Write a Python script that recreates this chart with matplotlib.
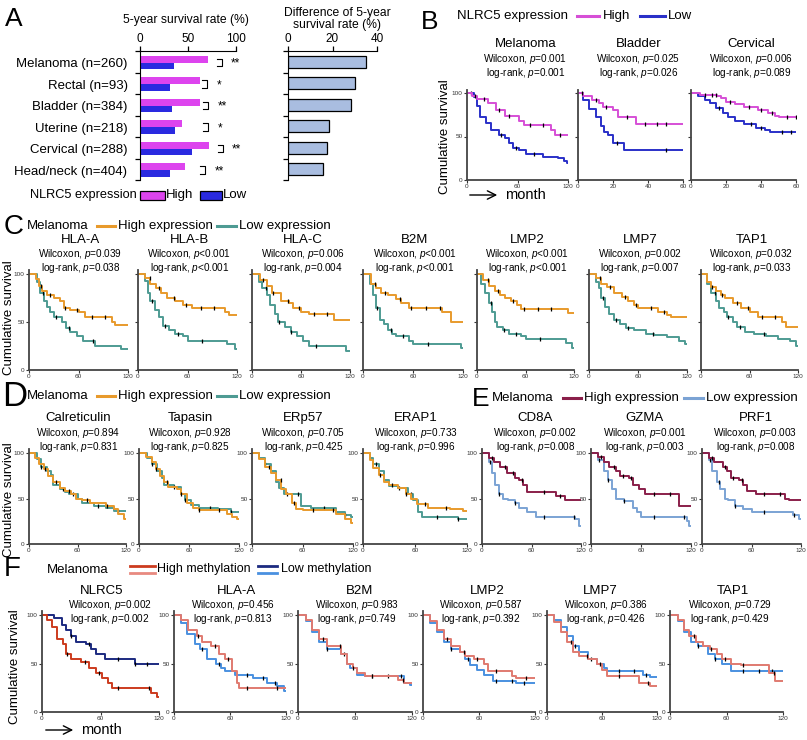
import numpy as np
import matplotlib
matplotlib.use('Agg')
import matplotlib.pyplot as plt
from matplotlib.lines import Line2D
from matplotlib.patches import Rectangle, FancyArrowPatch

plt.rcParams['font.family'] = ['Liberation Sans', 'DejaVu Sans']
plt.rcParams['mathtext.fontset'] = 'custom'
plt.rcParams['mathtext.it'] = 'Liberation Sans:italic'
plt.rcParams['mathtext.rm'] = 'Liberation Sans'

W, H = 807, 740

# ---------------- panel A data
cancers = ['Melanoma (n=260)', 'Rectal (n=93)', 'Bladder (n=384)',
           'Uterine (n=218)', 'Cervical (n=288)', 'Head/neck (n=404)']
surv_high = [71, 62, 62, 44, 72, 47]
surv_low = [35, 31, 33, 36, 54, 31]
surv_diff = [35, 30.3, 28.2, 18.5, 17.4, 15.6]
signif = ['**', '*', '**', '*', '**', '**']
bracket_x = [80, 65, 66, 66, 81, 63]

# ---------------- KM curves: (month, survival % after the drop), censor months
# panel B  (NLRC5 high / low)
b_mel_hi = [(6, 97), (12, 93), (25, 88), (35, 80), (45, 73), (62, 68), (68, 63), (100, 58), (104, 52)]
b_mel_hi_c = [10, 20, 38, 50, 75, 90, 110]
b_mel_lo = [(8, 95), (12, 85), (15, 72), (22, 65), (28, 58), (38, 52), (45, 48), (50, 42),
            (55, 37), (62, 35), (70, 30), (90, 27), (108, 25), (115, 22), (119, 19)]
b_mel_lo_c = [5, 40, 58, 80]
b_bla_hi = [(3, 97), (8, 92), (12, 88), (14, 84), (20, 80), (23, 72), (33, 64)]
b_bla_hi_c = [2, 10, 16, 28, 38, 45, 50]
b_bla_lo = [(3, 92), (6, 82), (10, 72), (13, 62), (15, 55), (17, 52), (20, 43), (26, 35)]
b_bla_lo_c = [22, 50]
b_cer_hi = [(5, 98), (15, 97), (17, 94), (20, 90), (25, 87), (30, 84), (38, 80), (44, 77), (48, 73), (50, 72)]
b_cer_hi_c = [8, 12, 14, 22, 33, 40, 46, 55, 60]
b_cer_lo = [(4, 96), (8, 92), (11, 88), (14, 83), (18, 77), (21, 72), (25, 68), (30, 64),
            (37, 60), (42, 57), (45, 55)]
b_cer_lo_c = [16, 34, 40, 52, 57]

# panel C  (melanoma, high / low expression)
c_hla_a_hi = [(8, 95), (12, 88), (16, 82), (22, 78), (30, 75), (38, 72), (42, 65), (50, 62),
              (60, 60), (68, 55), (100, 50), (104, 47)]
c_hla_a_lo = [(10, 92), (13, 80), (18, 72), (22, 66), (26, 60), (30, 55), (40, 50), (45, 44),
              (50, 40), (58, 35), (65, 30), (80, 25), (112, 22)]
c_hla_b_hi = [(8, 96), (15, 90), (22, 85), (28, 80), (35, 75), (45, 72), (55, 68), (65, 65),
              (105, 60), (110, 57)]
c_hla_b_lo = [(8, 93), (12, 80), (15, 72), (20, 62), (25, 55), (30, 46), (38, 42), (45, 38),
              (55, 35), (60, 30), (108, 27), (118, 22)]
c_hla_c_hi = [(10, 94), (18, 87), (25, 80), (35, 72), (45, 70), (50, 65), (60, 60), (70, 58),
              (100, 52)]
c_hla_c_lo = [(8, 92), (12, 85), (18, 78), (22, 68), (28, 58), (32, 50), (40, 45), (48, 40),
              (55, 35), (62, 30), (70, 25), (115, 20)]
c_b2m_hi = [(10, 90), (15, 85), (22, 80), (30, 78), (40, 74), (45, 70), (55, 65), (95, 60), (105, 50)]
c_b2m_lo = [(8, 90), (12, 78), (16, 65), (20, 52), (25, 48), (30, 42), (35, 38), (40, 35),
            (55, 30), (60, 27), (118, 23)]
c_lmp2_hi = [(8, 94), (15, 88), (22, 82), (28, 78), (35, 75), (42, 72), (50, 68), (55, 64), (112, 59)]
c_lmp2_lo = [(5, 90), (10, 80), (15, 70), (18, 60), (22, 50), (25, 45), (32, 42), (40, 38),
             (55, 35), (60, 32), (110, 28), (117, 23)]
c_lmp7_hi = [(8, 96), (15, 90), (22, 86), (30, 80), (40, 76), (48, 72), (55, 68), (60, 65),
             (85, 60), (95, 57), (100, 55)]
c_lmp7_lo = [(8, 92), (12, 85), (15, 75), (20, 66), (25, 58), (30, 52), (38, 48), (45, 44),
             (55, 42), (70, 38), (80, 36), (95, 34), (110, 30), (118, 27)]
c_tap1_hi = [(8, 92), (12, 86), (18, 82), (25, 78), (30, 75), (40, 70), (50, 65), (60, 60),
             (70, 55), (100, 50), (105, 45)]
c_tap1_lo = [(8, 90), (12, 80), (18, 72), (22, 65), (28, 60), (32, 55), (40, 50), (45, 45),
             (55, 40), (65, 37), (80, 35), (95, 32), (110, 30), (118, 25)]
c_cens_hi = [14, 26, 44, 58, 76, 92]
c_cens_lo = [17, 33, 48, 78]

# panel D
d_calr_hi = [(8, 95), (12, 88), (18, 82), (24, 75), (30, 68), (38, 62), (45, 58), (52, 55),
             (58, 50), (65, 48), (75, 45), (95, 42), (105, 38), (110, 33), (118, 28)]
d_calr_lo = [(10, 93), (15, 85), (22, 80), (27, 76), (30, 65), (38, 60), (45, 57), (50, 55),
             (60, 50), (65, 45), (80, 42), (95, 40), (105, 36)]
d_tapa_hi = [(8, 96), (15, 90), (20, 82), (25, 75), (30, 68), (35, 63), (45, 60), (50, 55),
             (58, 45), (65, 40), (72, 37), (105, 33), (112, 30), (118, 27)]
d_tapa_lo = [(10, 94), (15, 88), (22, 80), (27, 72), (30, 65), (42, 63), (50, 55), (55, 48),
             (62, 43), (72, 40), (95, 38), (110, 35)]
d_erp57_hi = [(8, 93), (15, 85), (22, 78), (28, 70), (35, 60), (40, 55), (48, 45), (52, 38),
              (60, 37), (100, 33), (110, 28), (118, 23)]
d_erp57_lo = [(8, 95), (15, 88), (22, 80), (28, 68), (32, 62), (38, 55), (58, 42), (70, 40),
              (100, 35), (110, 32), (118, 30)]
d_erap1_hi = [(8, 92), (12, 84), (18, 76), (24, 68), (30, 65), (40, 62), (50, 55), (55, 50),
              (62, 44), (75, 40), (100, 38), (115, 36)]
d_erap1_lo = [(8, 95), (12, 88), (18, 80), (24, 70), (30, 64), (40, 62), (52, 55), (58, 48),
              (63, 35), (68, 30), (110, 28)]
d_cens_hi = [20, 34, 50, 72, 96]
d_cens_lo = [15, 42, 55, 85, 110]

# panel E
e_cd8a_hi = [(8, 95), (15, 90), (22, 85), (30, 78), (40, 73), (45, 70), (50, 65), (55, 57),
             (90, 53), (100, 48)]
e_cd8a_lo = [(8, 90), (12, 78), (16, 65), (20, 55), (25, 50), (32, 48), (40, 45), (45, 40),
             (55, 35), (65, 30), (113, 27), (118, 20)]
e_gzma_hi = [(8, 96), (15, 90), (22, 85), (30, 80), (35, 75), (45, 72), (50, 65), (58, 60),
             (65, 55), (105, 42)]
e_gzma_lo = [(8, 92), (15, 80), (20, 70), (25, 60), (30, 50), (40, 47), (50, 40), (55, 35),
             (60, 30), (115, 25), (118, 20)]
e_prf1_hi = [(8, 95), (15, 90), (25, 85), (30, 80), (35, 72), (45, 70), (50, 65), (55, 58),
             (65, 55), (100, 50), (105, 48)]
e_prf1_lo = [(8, 92), (12, 80), (18, 68), (22, 60), (28, 50), (32, 48), (40, 42), (50, 38),
             (60, 35), (110, 32), (118, 28)]
e_cens_hi = [12, 28, 38, 48, 75, 95]
e_cens_lo = [10, 20, 40, 75, 112]

# panel F  (high / low methylation)
f_nlrc5_hi = [(5, 95), (10, 88), (15, 75), (22, 70), (25, 60), (30, 55), (40, 52), (48, 45),
              (55, 40), (62, 35), (68, 30), (72, 25), (112, 20), (118, 15)]
f_nlrc5_lo = [(12, 97), (20, 90), (25, 85), (30, 78), (35, 72), (45, 70), (50, 65), (55, 60),
              (65, 55), (95, 50)]
f_hlaa_hi = [(8, 95), (15, 85), (25, 78), (30, 72), (40, 68), (48, 60), (55, 55), (62, 42),
             (68, 30), (70, 25)]
f_hlaa_lo = [(8, 92), (14, 80), (22, 70), (28, 65), (35, 55), (45, 50), (50, 45), (55, 42),
             (65, 38), (85, 35), (100, 30), (110, 27), (118, 22)]
f_b2m_hi = [(8, 95), (15, 85), (22, 75), (30, 68), (45, 60), (52, 50), (58, 45), (62, 40),
            (70, 37), (105, 33), (112, 30)]
f_b2m_lo = [(8, 94), (15, 82), (22, 72), (30, 65), (45, 60), (52, 50), (55, 45), (62, 38),
            (70, 37), (112, 30), (118, 28)]
f_lmp2_hi = [(8, 94), (15, 85), (22, 75), (30, 68), (40, 62), (45, 58), (55, 55), (65, 50),
             (70, 42), (95, 37), (100, 35)]
f_lmp2_lo = [(8, 92), (15, 82), (22, 72), (30, 65), (40, 62), (45, 55), (50, 48), (58, 43),
             (65, 38), (75, 32), (100, 30)]
f_lmp7_hi = [(8, 93), (15, 82), (22, 72), (28, 62), (35, 58), (45, 55), (55, 50), (60, 43),
             (65, 37), (100, 30), (112, 27)]
f_lmp7_lo = [(8, 95), (15, 88), (22, 78), (28, 68), (35, 62), (45, 55), (55, 50), (62, 45),
             (65, 42), (105, 38), (112, 36)]
f_tap1_hi = [(8, 95), (15, 85), (20, 78), (28, 72), (35, 68), (42, 65), (50, 60), (55, 55),
             (65, 50), (75, 48), (105, 40), (112, 32)]
f_tap1_lo = [(8, 94), (15, 82), (22, 72), (30, 68), (40, 60), (48, 55), (55, 50), (65, 42)]
f_cens_hi = [26, 44, 58, 78, 110]
f_cens_lo = [30, 48, 78, 95, 108]

b_titles = ['Melanoma', 'Bladder', 'Cervical']
b_wil = ['=0.001', '=0.025', '=0.006']
b_log = ['=0.001', '=0.026', '=0.089']
c_genes = ['HLA-A', 'HLA-B', 'HLA-C', 'B2M', 'LMP2', 'LMP7', 'TAP1']
c_wil = ['=0.039', '<0.001', '=0.006', '<0.001', '<0.001', '=0.002', '=0.032']
c_log = ['=0.038', '<0.001', '=0.004', '<0.001', '<0.001', '=0.007', '=0.033']
d_genes = ['Calreticulin', 'Tapasin', 'ERp57', 'ERAP1']
d_wil = ['=0.894', '=0.928', '=0.705', '=0.733']
d_log = ['=0.831', '=0.825', '=0.425', '=0.996']
e_genes = ['CD8A', 'GZMA', 'PRF1']
e_wil = ['=0.002', '=0.001', '=0.003']
e_log = ['=0.008', '=0.003', '=0.008']
f_genes = ['NLRC5', 'HLA-A', 'B2M', 'LMP2', 'LMP7', 'TAP1']
f_wil = ['=0.002', '=0.456', '=0.983', '=0.587', '=0.386', '=0.729']
f_log = ['=0.002', '=0.813', '=0.749', '=0.392', '=0.426', '=0.429']

MAG = '#dd44ee'
BLU = '#2a2ae0'
ORA = '#e89a2c'
TEA = '#4e9b93'

fig = plt.figure(figsize=(W / 100, H / 100), dpi=100)


def fx(x):
    return x / W


def fy(y):
    return 1 - y / H


def px_axes(x0, x1, y0, y1):
    return fig.add_axes([fx(x0), fy(y1), (x1 - x0) / W, (y1 - y0) / H])


def ftext(x, y, s, **kw):
    kw.setdefault('va', 'center')
    fig.text(fx(x), fy(y), s, **kw)


def fline(x0, x1, y, color, lw=2.2):
    fig.add_artist(Line2D([fx(x0), fx(x1)], [fy(y), fy(y)], color=color, lw=lw))


def km_axes(x0, x1, y100, y0, tmax, xt, ylab=True):
    top = y0 - 1.04 * (y0 - y100)
    ax = px_axes(x0, x1, top, y0)
    ax.set_xlim(0, tmax)
    ax.set_ylim(0, 104)
    for sp in ['top', 'right']:
        ax.spines[sp].set_visible(False)
    for sp in ['left', 'bottom']:
        ax.spines[sp].set_color('#444444')
        ax.spines[sp].set_linewidth(1.3)
    ax.set_xticks(xt)
    ax.set_yticks([0, 50, 100])
    ax.tick_params(labelsize=4.6, length=2, width=0.8, pad=1, colors='#333333')
    if not ylab:
        ax.set_yticklabels([])
    return ax


def km(ax, steps, cens, color, tmax, lw=1.4):
    t = [0] + [p[0] for p in steps] + [tmax]
    s = [100] + [p[1] for p in steps]
    s = s + [s[-1]]
    ax.step(t, s, where='post', color=color, lw=lw)
    ct = np.array(cens)
    idx = np.searchsorted(np.array(t[:-1]), ct, side='right') - 1
    ax.plot(ct, np.array(s)[idx], ls='none', marker='|', ms=2.2, mew=0.9, color='black')


def pvals(xc, y, wil, log):
    # two stacked p-value lines as one text block, y = centre of the block
    ftext(xc, y, 'Wilcoxon, $p$' + wil + '\nlog-rank, $p$' + log,
          ha='center', fontsize=7.2, linespacing=1.0)


def head(xc, y, title, wil, log, dw=15, dl=27):
    ftext(xc, y, title, ha='center', fontsize=9.5)
    pvals(xc, y + (dw + dl) / 2, wil, log)


def arrow_month(x0, y):
    fig.add_artist(FancyArrowPatch((fx(x0), fy(y)), (fx(x0 + 33), fy(y)),
                   transform=fig.transFigure, arrowstyle='->,head_length=6,head_width=3',
                   lw=1, color='black'))
    ftext(x0 + 38, y, 'month', fontsize=10.5)


# ================= panel A
ftext(5, 19, 'A', fontsize=19)
n = len(cancers)
pos = np.arange(n)
ax = px_axes(140, 236, 51, 180)
ax.barh(pos + 0.39, surv_high, height=0.33, color=MAG)
ax.barh(pos + 0.7, surv_low, height=0.3, color=BLU)
for i in range(n):
    bx = bracket_x[i]
    ax.plot([bx, bx + 5, bx + 5, bx], [i + 0.36, i + 0.36, i + 0.7, i + 0.7], color='black', lw=0.8)
    ax.text(bx + 15, i + 0.6, signif[i], fontsize=8.5, va='center')
ax.set_xlim(0, 100)
ax.set_ylim(n, 0)
ax.xaxis.tick_top()
ax.set_xticks([0, 50, 100])
ax.set_yticks(range(n + 1))
ax.set_yticklabels([])
ax.set_yticks(pos + 0.55, minor=True)
ax.set_yticklabels(cancers, minor=True, fontsize=9.5)
ax.tick_params(axis='y', which='minor', length=0, pad=9)
ax.tick_params(axis='both', which='major', length=3.5, width=0.9, labelsize=8.5, pad=1)
for sp in ['right', 'bottom']:
    ax.spines[sp].set_visible(False)
ftext(186, 20, '5-year survival rate (%)', ha='center', fontsize=8.7)

ax2 = px_axes(288, 377, 51, 180)
ax2.barh(pos + 0.5, surv_diff, height=0.55, color='#a9bde0', edgecolor='black', lw=0.9)
ax2.set_xlim(0, 40)
ax2.set_ylim(n, 0)
ax2.xaxis.tick_top()
ax2.set_xticks([0, 20, 40])
ax2.set_yticks(range(n + 1))
ax2.set_yticklabels([])
ax2.tick_params(axis='both', length=3.5, width=0.9, labelsize=8.5, pad=1)
for sp in ['right', 'bottom']:
    ax2.spines[sp].set_visible(False)
ftext(337, 19, 'Difference of 5-year\nsurvival rate (%)', ha='center', fontsize=8.7, linespacing=0.95)

ftext(30, 195, 'NLRC5 expression', fontsize=9.2)
fig.add_artist(Rectangle((fx(140), fy(200)), 25 / W, 9 / H, transform=fig.transFigure,
                         facecolor=MAG, edgecolor='black', lw=0.9))
ftext(166, 195, 'High', fontsize=9.5)
fig.add_artist(Rectangle((fx(200), fy(200)), 22 / W, 9 / H, transform=fig.transFigure,
                         facecolor=BLU, edgecolor='black', lw=0.9))
ftext(223, 195, 'Low', fontsize=9.5)

# ================= panel B
ftext(421, 22, 'B', fontsize=19)
ftext(457, 16, 'NLRC5 expression', fontsize=9.5)
fline(577, 599, 16, '#d64fd6')
ftext(603, 16, 'High', fontsize=9.5)
fline(640, 665, 16, '#2a30c8')
ftext(668, 16, 'Low', fontsize=9.5)

b_hi = [b_mel_hi, b_bla_hi, b_cer_hi]
b_hic = [b_mel_hi_c, b_bla_hi_c, b_cer_hi_c]
b_lo = [b_mel_lo, b_bla_lo, b_cer_lo]
b_loc = [b_mel_lo_c, b_bla_lo_c, b_cer_lo_c]
b_x = [(467, 568), (578, 683), (691, 796)]
for i in range(3):
    tmax = 120 if i == 0 else 60
    xt = [0, 60, 120] if i == 0 else [0, 20, 40, 60]
    ax = km_axes(b_x[i][0], b_x[i][1], 93, 180, tmax, xt, ylab=(i == 0))
    km(ax, b_lo[i], b_loc[i], '#2a30c8', tmax)
    km(ax, b_hi[i], b_hic[i], '#d64fd6', tmax)
    head((b_x[i][0] + b_x[i][1]) / 2 + 8, 44, b_titles[i], b_wil[i], b_log[i], 16, 28)
ftext(445, 137, 'Cumulative survival', rotation=90, ha='center', fontsize=9.5)
arrow_month(467, 195)


def legend_row(x_let, y, letter, lfs, xs, c_hi, c_lo, hi_txt='High expression', lo_txt='Low expression'):
    ftext(x_let, y + 1, letter, fontsize=lfs)
    ftext(xs[0], y, 'Melanoma', fontsize=9.5)
    fline(xs[1], xs[1] + 18, y, c_hi)
    ftext(xs[1] + 21, y, hi_txt, fontsize=9.5)
    fline(xs[2], xs[2] + 19, y, c_lo)
    ftext(xs[2] + 22, y, lo_txt, fontsize=9.5)


# ================= panel C
legend_row(4, 226, 'C', 20, [27, 97, 217], ORA, TEA)
c_hi = [c_hla_a_hi, c_hla_b_hi, c_hla_c_hi, c_b2m_hi, c_lmp2_hi, c_lmp7_hi, c_tap1_hi]
c_lo = [c_hla_a_lo, c_hla_b_lo, c_hla_c_lo, c_b2m_lo, c_lmp2_lo, c_lmp7_lo, c_tap1_lo]
c_x = [(29, 128), (138, 237), (252, 350), (363, 463), (477, 574), (589, 687), (701, 798)]
for i in range(7):
    ax = km_axes(c_x[i][0], c_x[i][1], 274, 370, 120, [0, 60, 120], ylab=(i == 0))
    km(ax, c_lo[i], c_cens_lo, TEA, 120)
    km(ax, c_hi[i], c_cens_hi, ORA, 120)
    head((c_x[i][0] + c_x[i][1]) / 2 + 2, 240, c_genes[i], c_wil[i], c_log[i], 15, 27)
ftext(9, 318, 'Cumulative survival', rotation=90, ha='center', fontsize=9.5)

# ================= panel D
legend_row(2, 396, 'D', 25, [27, 97, 217], ORA, TEA)
d_hi = [d_calr_hi, d_tapa_hi, d_erp57_hi, d_erap1_hi]
d_lo = [d_calr_lo, d_tapa_lo, d_erp57_lo, d_erap1_lo]
d_x = [(29, 126), (139, 239), (252, 353), (363, 467)]
for i in range(4):
    ax = km_axes(d_x[i][0], d_x[i][1], 453, 544, 120, [0, 60, 120])
    km(ax, d_lo[i], d_cens_lo, TEA, 120)
    km(ax, d_hi[i], d_cens_hi, ORA, 120)
    head((d_x[i][0] + d_x[i][1]) / 2 + 1, 418, d_genes[i], d_wil[i], d_log[i], 16, 28)
ftext(9, 500, 'Cumulative survival', rotation=90, ha='center', fontsize=9.5)

# ================= panel E
legend_row(472, 398, 'E', 19, [492, 563, 684], '#8a1f4a', '#7ba3d4')
e_hi = [e_cd8a_hi, e_gzma_hi, e_prf1_hi]
e_lo = [e_cd8a_lo, e_gzma_lo, e_prf1_lo]
e_x = [(482, 581), (591, 691), (702, 801)]
for i in range(3):
    ax = km_axes(e_x[i][0], e_x[i][1], 453, 544, 120, [0, 60, 120])
    km(ax, e_lo[i], e_cens_lo, '#7ba3d4', 120)
    km(ax, e_hi[i], e_cens_hi, '#8a1f4a', 120)
    head((e_x[i][0] + e_x[i][1]) / 2 + 4, 418, e_genes[i], e_wil[i], e_log[i], 16, 28)

# ================= panel F
ftext(4, 569, 'F', fontsize=20)
ftext(47, 570, 'Melanoma', fontsize=9.5)
fline(130, 155, 566, '#cc3b1e', lw=2)
fline(130, 155, 573, '#e88a80', lw=2)
ftext(157, 569, 'High methylation', fontsize=9)
fline(258, 277, 566, '#1c2a80', lw=2)
fline(258, 277, 573, '#4a90e0', lw=2)
ftext(281, 569, 'Low methylation', fontsize=9)

f_hi = [f_nlrc5_hi, f_hlaa_hi, f_b2m_hi, f_lmp2_hi, f_lmp7_hi, f_tap1_hi]
f_lo = [f_nlrc5_lo, f_hlaa_lo, f_b2m_lo, f_lmp2_lo, f_lmp7_lo, f_tap1_lo]
f_x = [(42, 159), (174, 286), (298, 412), (423, 535), (547, 657), (670, 783)]
f_title_x = [102, 237, 360, 487, 600, 733]
f_pval_x = [110, 233, 357, 481, 606, 730]
for i in range(6):
    ax = km_axes(f_x[i][0], f_x[i][1], 615, 712, 120, [0, 60, 120])
    chi = '#cc3b1e' if i == 0 else '#e07a70'
    clo = '#1c2a80' if i == 0 else '#4a90e0'
    km(ax, f_lo[i], f_cens_lo, clo, 120)
    km(ax, f_hi[i], f_cens_hi, chi, 120)
    ftext(f_title_x[i], 591, f_genes[i], ha='center', fontsize=9.5)
    pvals(f_pval_x[i], 612, f_wil[i], f_log[i])
ftext(15, 667, 'Cumulative survival', rotation=90, ha='center', fontsize=9.5)
arrow_month(43, 730)

fig.savefig('out.png', dpi=100)
